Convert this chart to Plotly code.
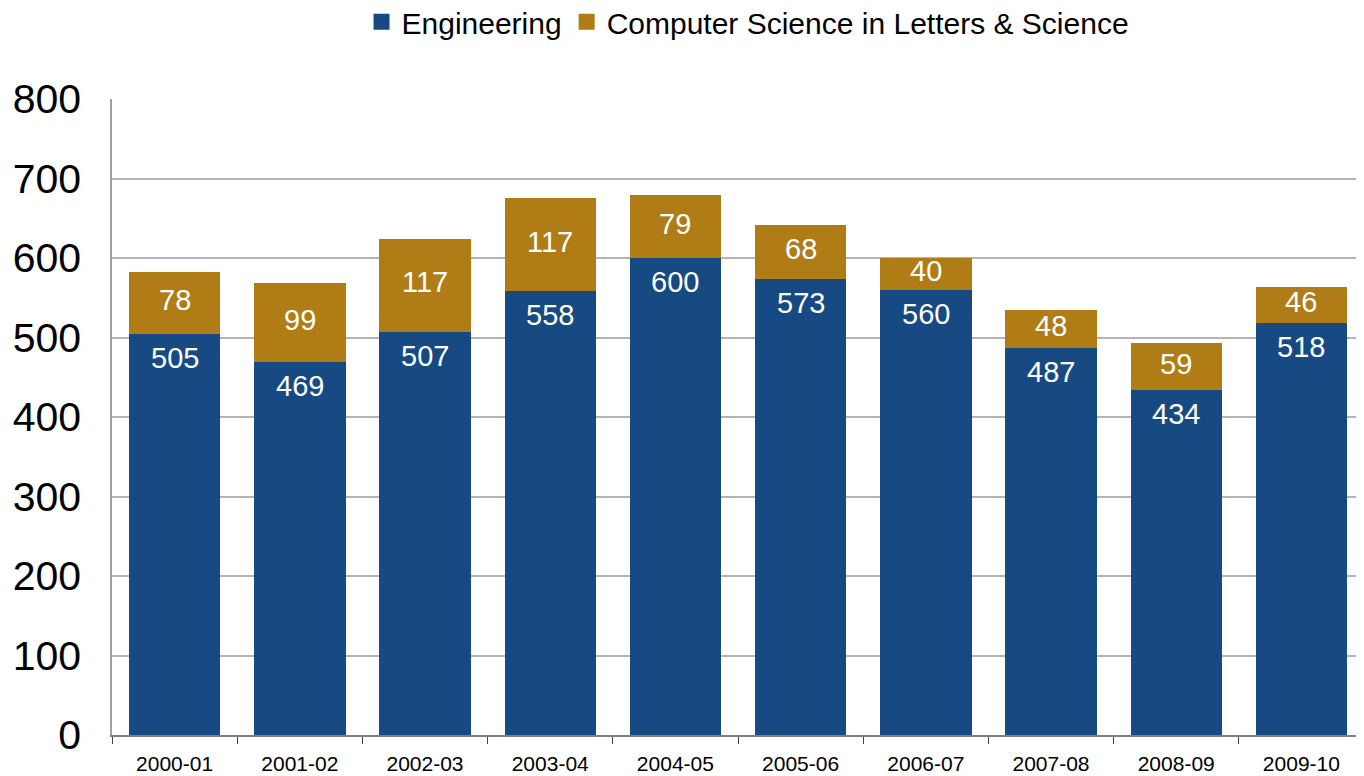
import plotly.graph_objects as go

years = ["2000-01", "2001-02", "2002-03", "2003-04", "2004-05",
         "2005-06", "2006-07", "2007-08", "2008-09", "2009-10"]
engineering = [505, 469, 507, 558, 600, 573, 560, 487, 434, 518]
cs_ls = [78, 99, 117, 117, 79, 68, 40, 48, 59, 46]
series_names = ["Engineering", "Computer Science in Letters & Science"]

BLUE = "#174A82"
GOLD = "#B07C16"
FONT = "Liberation Sans, Arial, sans-serif"
LBL = dict(color="white", size=29, family=FONT)

fig = go.Figure()
for vals, name, col in [(engineering, series_names[0], BLUE),
                        (cs_ls, series_names[1], GOLD)]:
    fig.add_bar(x=years, y=vals, name=name, marker_color=col,
                marker_line_width=0, showlegend=False)

# bigger square swatches for the legend
for name, col in zip(series_names, [BLUE, GOLD]):
    fig.add_scatter(x=[None], y=[None], mode="markers", name=name,
                    marker=dict(symbol="square", size=20, color=col))

# value labels: engineering near the top of its segment, CS centred in its segment
for yr, e, c in zip(years, engineering, cs_ls):
    fig.add_annotation(x=yr, y=e, text=str(e), showarrow=False, yanchor="top",
                       yshift=-6, font=LBL)
    fig.add_annotation(x=yr, y=e + c / 2, text=str(c), showarrow=False,
                       yanchor="middle", yshift=3, font=LBL)

# page body has an 8px margin, so the figure is shrunk by that much
fig.update_layout(
    barmode="stack", bargap=0.27, width=1356, height=768,
    paper_bgcolor="white", plot_bgcolor="white",
    font=dict(family=FONT, color="black"),
    margin=dict(l=104, r=0, t=91, b=41, autoexpand=False),
    legend=dict(orientation="h", x=0.508, xanchor="center", y=0.982, yanchor="middle",
                yref="container", font=dict(size=30), itemwidth=30,
                traceorder="normal"),
)
fig.update_xaxes(type="category", showline=True, linecolor="#808080", linewidth=2,
                 ticks="outside", tickson="boundaries", ticklen=7, tickcolor="#404040",
                 tickfont=dict(size=21), ticklabelstandoff=9, showgrid=False,
                 automargin=False)
fig.update_yaxes(range=[0, 800], dtick=100, showgrid=True, gridcolor="#B4B4B4",
                 gridwidth=1.5, showline=True, linecolor="#A0A0A0", linewidth=1.5,
                 tickfont=dict(size=41), ticklabelstandoff=21, ticks="",
                 zeroline=False, automargin=False)

fig.write_html("out.html")
